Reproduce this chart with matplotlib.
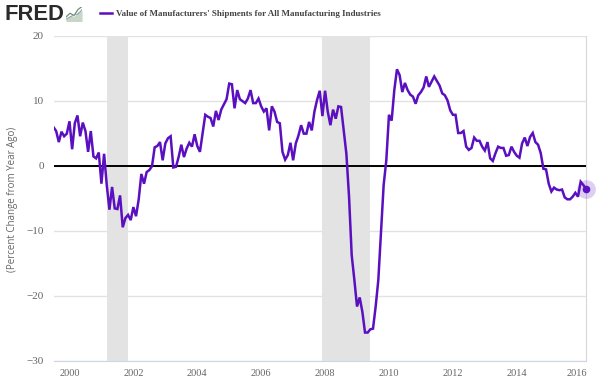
import matplotlib
matplotlib.use("Agg")
import matplotlib.pyplot as plt
from matplotlib.lines import Line2D
from matplotlib.transforms import ScaledTranslation

START_YEAR = 1999
START_MONTH = 7  # first observation
values = [
 5.9,5.3,3.6,5.2,4.5,4.9,6.8,2.5,6.5,7.7,4.5,6.6,5.3,2.1,5.3,1.4,1.1,2.0,-2.8,1.8,
 -3.0,-6.8,-3.3,-6.6,-6.7,-4.6,-9.5,-8.1,-7.6,-8.4,-6.4,-7.8,-5.2,-1.3,-2.8,-1.0,-0.7,-0.1,2.8,3.0,
 3.6,0.8,3.4,4.2,4.5,-0.3,-0.2,1.3,3.2,1.3,2.6,3.5,2.9,4.8,3.0,2.1,5.0,7.8,7.5,7.3,
 6.0,8.4,7.0,8.6,9.4,10.2,12.6,12.5,8.8,11.6,10.2,9.9,9.6,10.3,11.6,9.6,9.6,10.3,9.1,8.3,
 8.8,5.4,9.1,8.3,6.7,6.5,2.1,0.9,1.6,3.5,0.8,3.4,4.6,
 6.2,4.9,4.9,6.7,5.4,8.3,10.1,11.5,7.6,11.5,8.3,6.2,8.6,7.2,9.1,9.0,5.4,1.8,-4.8,
 -13.8,-17.6,-21.7,-20.3,-22.5,-25.7,-25.7,-25.2,-25.1,-21.7,-17.6,-10.4,-3.0,0.8,7.8,6.9,11.6,14.8,13.9,
 11.3,12.7,11.6,10.9,10.6,9.5,10.8,11.3,12.0,13.7,12.1,12.9,13.7,13.0,12.3,11.1,10.8,10.0,8.5,7.8,
 7.8,5.0,5.0,5.3,2.9,2.4,2.7,4.3,3.8,3.8,2.9,2.3,3.6,1.1,0.7,1.9,2.9,2.7,2.7,1.5,
 1.6,2.9,2.1,1.5,1.2,3.4,4.3,3.0,4.4,5.0,3.6,3.2,1.9,-0.5,-0.6,-2.8,-4.0,-3.4,-3.7,-3.8,
 -3.7,-4.9,-5.2,-5.2,-4.8,-4.2,-4.8,-2.5,-3.0,-3.6,
]
recessions = [(2001 + 2/12, 2001 + 10/12), (2007 + 11/12, 2009 + 5/12)]
year_ticks = [2000, 2002, 2004, 2006, 2008, 2010, 2012, 2014, 2016]
value_ticks = [-30, -20, -10, 0, 10, 20]
legend_label = "Value of Manufacturers' Shipments for All Manufacturing Industries"
y_label = "(Percent Change from Year Ago)"

dates = [START_YEAR + (START_MONTH - 1 + i) / 12 for i in range(len(values))]

W, H = 600, 383
fig = plt.figure(figsize=(W/100, H/100), dpi=100, facecolor="white")
ax = fig.add_axes([53.5/W, 1-360.5/H, (586-53.5)/W, (360.5-35.5)/H])
ax.set_xlim(1999.5, dates[-1])
ax.set_ylim(-30, 20)

for a, b in recessions:
    ax.axvspan(a, b, color="#e3e3e3", lw=0, zorder=1)
ax.set_yticks(value_ticks)
ax.set_xticks(year_ticks)
ax.grid(axis="y", color="#e2e2e2", lw=1.0, zorder=0)
ax.set_axisbelow(True)
ax.axhline(0, color="black", lw=1.4, zorder=3)
LINE = "#5a0fc0"
ax.plot(dates[-1], values[-1], "o", ms=13.5, mfc=LINE, alpha=0.2, mec="none", clip_on=False, zorder=3.5)
ax.plot(dates, values, color=LINE, lw=1.8, solid_joinstyle="miter", zorder=4)
ax.plot(dates[-1], values[-1], "o", ms=5.5, mfc=LINE, mec="none", clip_on=False, zorder=6)

for s in ("top", "left"):
    ax.spines[s].set_visible(False)
ax.spines["right"].set_color("#d8d8d8")
ax.spines["bottom"].set_color("#ccd6e6")
ax.tick_params(axis="y", length=0, pad=7, labelsize=8, labelcolor="#666666")
ax.tick_params(axis="x", length=0, pad=6, labelsize=7.4, labelcolor="#666666")
for t in ax.get_xticklabels() + ax.get_yticklabels():
    t.set_family("Liberation Serif")
last = ax.get_xticklabels()[-1]
last.set_transform(last.get_transform() + ScaledTranslation(-4/100, 0, fig.dpi_scale_trans))

fig.text(12.5/W, 1-199/H, y_label, rotation=90, ha="center", va="center",
         fontsize=7.0, color="#666666", family="Open Sans")

# header
fig.text(4/W, 1-14.5/H, "FRED", fontsize=15.8, fontweight="bold", color="#2a2a2a",
         family="Liberation Sans", ha="left", va="center")
logo = fig.add_axes([66/W, 1-21.5/H, 16/W, 15/H])
logo.set_xlim(0, 1); logo.set_ylim(0, 1); logo.axis("off")
logo.fill_between([0, .25, .5, .75, 1], [.2, .4, .35, .65, .75], 0, color="#c8d6c8", lw=0)
logo.plot([0, .25, .5, .75, 1], [.3, .55, .4, .8, 1], color="#6f8f6f", lw=0.9)
logo.plot([0, .25, .5, .75, 1], [.15, .3, .45, .5, .8], color="#8aa0b8", lw=0.7)

fig.add_artist(Line2D([100/W, 112/W], [1-13/H, 1-13/H], color=LINE, lw=1.8))
fig.text(116/W, 1-13.5/H, legend_label, fontsize=6.5, fontweight="bold", color="#444444",
         family="Liberation Serif", ha="left", va="center")

fig.savefig("out.png", dpi=100)
